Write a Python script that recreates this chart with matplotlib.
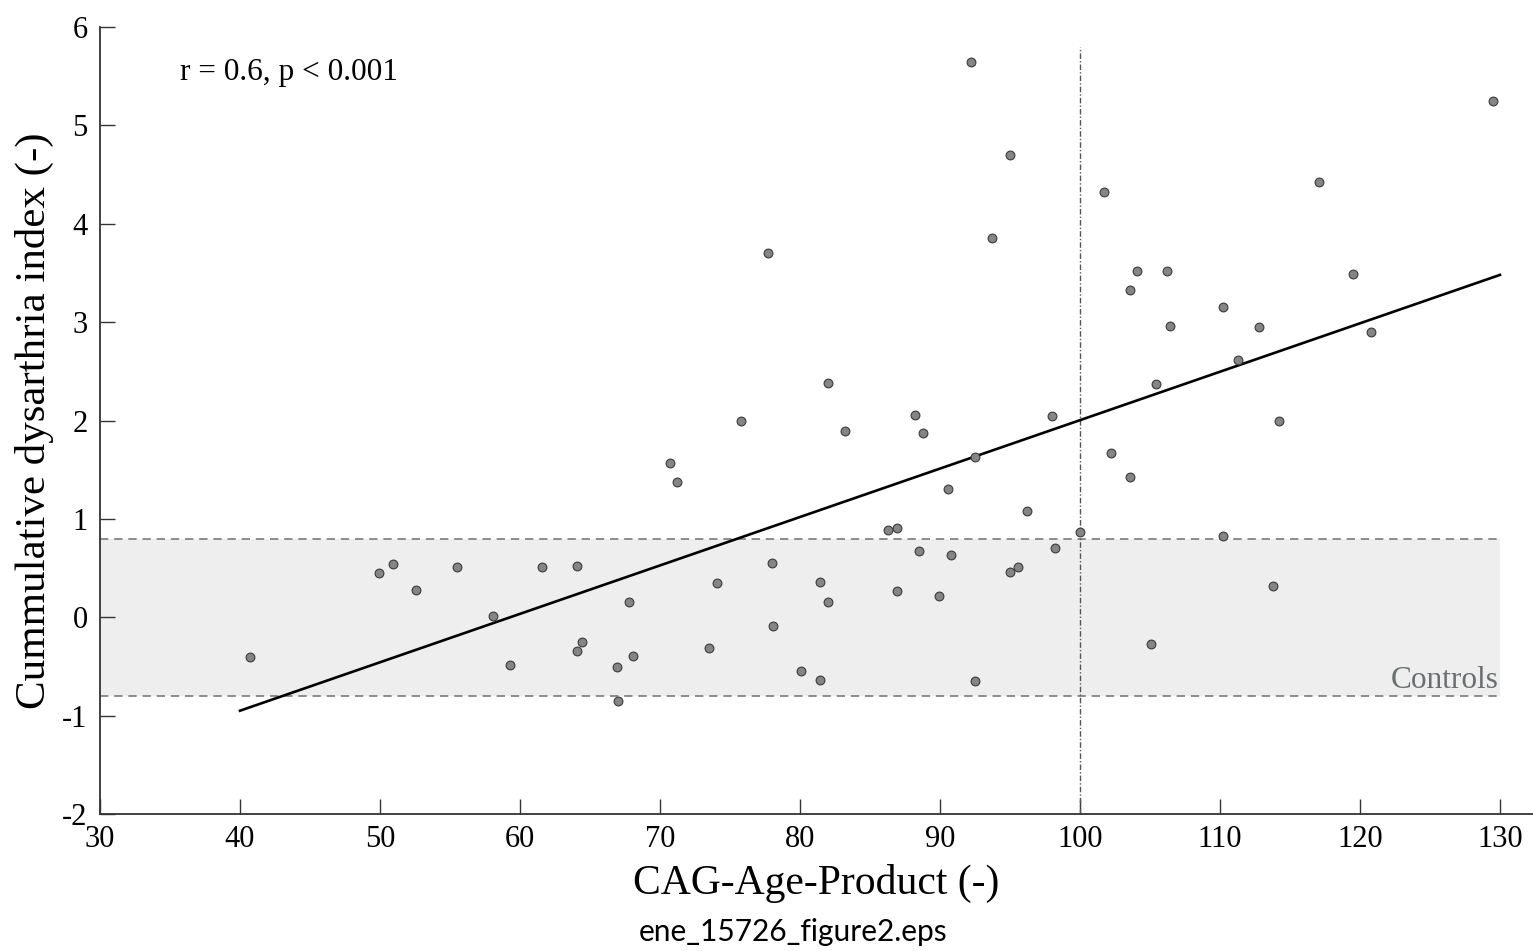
import matplotlib
matplotlib.use("Agg")
import matplotlib.pyplot as plt

plt.rcParams['font.family'] = ['Liberation Serif', 'DejaVu Serif']
plt.rcParams['axes.unicode_minus'] = False

# CAG-Age-Product vs cumulative dysarthria index
cap = [40.7, 49.9, 50.9, 52.6, 55.5, 58.1, 59.3, 61.6, 64.1, 67.8, 64.4, 64.1,
       66.9, 68.1, 67.0,
       82.0, 75.8, 83.2, 88.2, 88.8, 98.0, 70.7, 71.2, 92.5, 90.6, 96.2, 86.3,
       86.9, 100.0, 88.5, 90.8, 98.2, 95.0, 95.6, 78.0, 74.1, 81.4, 82.0, 86.9,
       89.9, 78.1, 73.5, 80.1, 81.4, 92.5,
       92.2, 95.0, 93.7, 77.7,
       101.7, 129.5, 117.1, 104.1, 106.2, 103.6, 119.5, 110.2, 106.4, 112.8,
       120.8, 111.3,
       105.4, 114.2, 102.2, 103.6, 110.2, 113.8, 105.1]
cdi = [-0.40, 0.45, 0.54, 0.28, 0.51, 0.01, -0.49, 0.51, 0.52, 0.15, -0.25, -0.34,
       -0.51, -0.39, -0.85,
       2.38, 1.99, 1.89, 2.06, 1.87, 2.05, 1.57, 1.37, 1.63, 1.30, 1.08, 0.89,
       0.91, 0.87, 0.67, 0.63, 0.70, 0.46, 0.51, 0.55, 0.35, 0.36, 0.15, 0.27,
       0.22, -0.09, -0.31, -0.55, -0.64, -0.65,
       5.64, 4.70, 3.86, 3.70,
       4.32, 5.25, 4.42, 3.52, 3.52, 3.33, 3.49, 3.15, 2.96, 2.95,
       2.90, 2.62,
       2.37, 2.00, 1.67, 1.43, 0.83, 0.32, -0.27]

fit_x = [40, 130]
fit_y = [-0.95, 3.48]

controls_range = [-0.8, 0.8]
controls_x = [30, 130]
cutoff = 100

fig = plt.figure(figsize=(15.33, 9.51), dpi=100)
ax = fig.add_axes([100 / 1533, 137 / 951, 1433 / 1533, 787 / 951])

ax.fill_between(controls_x, controls_range[0], controls_range[1],
                color='#edeeed', lw=0, zorder=0)
for yv in controls_range:
    ax.plot(controls_x, [yv, yv], color='#7a7a7a', lw=1.2, ls=(0, (5, 3.5)), zorder=1)
ax.text(129.9, -0.72, 'Controls', ha='right', va='baseline', fontsize=22.5,
        color='#6a6e70')

ax.plot([cutoff, cutoff], [-2, 5.8], color='#555555', lw=1.0,
        ls=(0, (4, 1.5, 1, 1.5)), zorder=2)

ax.plot(fit_x, fit_y, color='black', lw=1.9, zorder=3)
ax.scatter(cap, cdi, s=40, facecolor='#858585', edgecolor='#3a3a3a',
           linewidths=0.8, zorder=4)

ax.text(35.7, 5.54, 'r = 0.6, p < 0.001', fontsize=22.5, va='center', ha='left')

ax.set_xlim(30, 132.36)
ax.set_ylim(-2, 6)
ax.set_xticks(range(30, 131, 10))
ax.set_yticks(range(-2, 7))
for s in ['top', 'right']:
    ax.spines[s].set_visible(False)
for s in ['left', 'bottom']:
    ax.spines[s].set_color('#333333')
    ax.spines[s].set_linewidth(1.3)
ax.tick_params(direction='in', length=11, width=1.0, color='#333333',
               labelsize=22)
ax.tick_params(axis='x', pad=8)
ax.tick_params(axis='y', pad=9)

ax.set_xlabel('CAG-Age-Product (-)', fontsize=30, labelpad=7)
ax.set_ylabel('Cummulative dysarthria index (-)', fontsize=31, labelpad=6)

fig.text(793 / 1533, 1 - 932 / 951, 'ene_15726_figure2.eps', ha='center',
         va='center', fontsize=21.5, family=['Lato', 'DejaVu Sans'])

fig.savefig('out.png', dpi=100)
